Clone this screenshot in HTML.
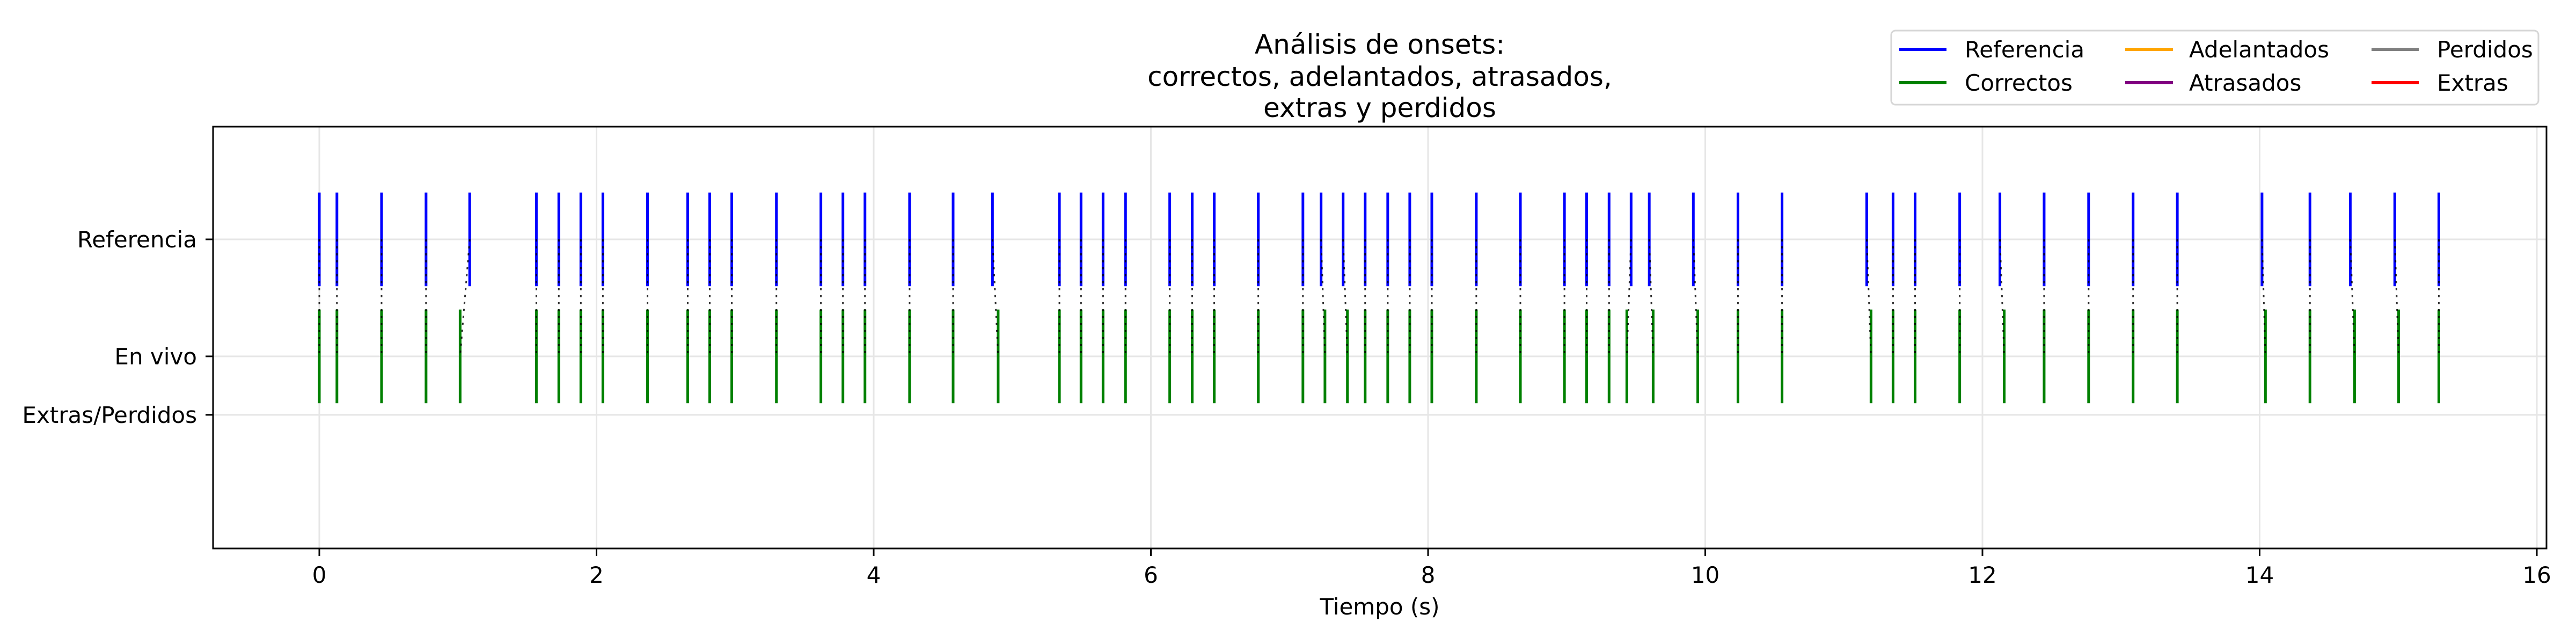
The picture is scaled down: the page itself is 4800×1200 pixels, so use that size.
<!DOCTYPE html>
<html><head><meta charset="utf-8"><style>
html,body{margin:0;padding:0;background:#fff}
svg{display:block;font-family:"DejaVu Sans","Liberation Sans",sans-serif}
</style></head><body>
<svg id="chart" width="4800" height="1200" viewBox="0 0 4800 1200" xmlns="http://www.w3.org/2000/svg">
<rect width="4800" height="1200" fill="#fff"/>
<g id="grid"></g>
<g id="marks"></g>
<g id="axes"></g>
<text x="2571" y="100" font-size="50" text-anchor="middle"><tspan x="2571" y="100">Análisis de onsets:</tspan><tspan x="2571" y="160">correctos, adelantados, atrasados,</tspan><tspan x="2571" y="218">extras y perdidos</tspan></text>
<text x="2571" y="1145" font-size="42" text-anchor="middle">Tiempo (s)</text>
<g>
<rect x="3524" y="57" width="1206" height="138" rx="8" fill="#fff" stroke="#d6d6d6" stroke-width="3"/>
<g><line x1="3539" y1="92" x2="3627" y2="92" stroke="blue" stroke-width="6"/><text x="3661" y="107" font-size="42">Referencia</text></g>
<g><line x1="3539" y1="154" x2="3627" y2="154" stroke="green" stroke-width="6"/><text x="3661" y="169" font-size="42">Correctos</text></g>
<g><line x1="3960" y1="92" x2="4049" y2="92" stroke="orange" stroke-width="6"/><text x="4079" y="107" font-size="42">Adelantados</text></g>
<g><line x1="3960" y1="154" x2="4049" y2="154" stroke="purple" stroke-width="6"/><text x="4079" y="169" font-size="42">Atrasados</text></g>
<g><line x1="4419" y1="92" x2="4507" y2="92" stroke="gray" stroke-width="6"/><text x="4541" y="107" font-size="42">Perdidos</text></g>
<g><line x1="4419" y1="154" x2="4507" y2="154" stroke="red" stroke-width="6"/><text x="4541" y="169" font-size="42">Extras</text></g>
</g>
</svg>
<script>
const refOnsets = [0.00,0.127,0.449,0.770,1.085,1.566,1.728,1.887,2.046,2.368,2.658,2.817,2.976,3.298,3.619,3.778,3.937,4.259,4.573,4.857,
5.340,5.496,5.655,5.817,6.136,6.298,6.457,6.775,7.097,7.228,7.387,7.546,7.709,7.868,8.027,8.348,8.666,8.984,9.144,9.306,9.465,9.596,9.914,10.236,10.554,
11.165,11.355,11.514,11.836,12.126,12.445,12.766,13.087,13.406,14.017,14.363,14.654,14.975,15.293];
const liveOnsets = [0.00,0.127,0.449,0.770,1.016,1.566,1.728,1.887,2.046,2.368,2.658,2.817,2.976,3.298,3.619,3.778,3.937,4.259,4.573,4.898,
5.340,5.496,5.655,5.817,6.136,6.298,6.457,6.775,7.097,7.256,7.418,7.546,7.709,7.868,8.027,8.348,8.666,8.984,9.144,9.306,9.434,9.624,9.946,10.236,10.554,
11.196,11.355,11.514,11.836,12.157,12.445,12.766,13.087,13.406,14.042,14.363,14.685,15.003,15.293];
const xTicks = [0,2,4,6,8,10,12,14,16];
const yTickValues = [2,1,0.5];
const yTickLabels = ["Referencia","En vivo","Extras/Perdidos"];

const L=397,R=4745,T=236,B=1022;
const X0=595, XU=258.25;
const Y2=446, YU=218;
function xs(t){return X0+t*XU;}
function ys(v){return Y2-(v-2)*YU;}
const NS="http://www.w3.org/2000/svg";
function mk(tag,attrs,parent){const e=document.createElementNS(NS,tag);for(const k in attrs)e.setAttribute(k,attrs[k]);parent.appendChild(e);return e;}
const grid=document.getElementById('grid'),marks=document.getElementById('marks'),axes=document.getElementById('axes');

xTicks.forEach(t=>{
  const g=mk('line',{x1:xs(t),x2:xs(t),y1:T,y2:B,stroke:'#e6e6e6','stroke-width':3},grid);
  
  
  const tk=mk('line',{x1:xs(t),x2:xs(t),y1:B,y2:B+14,stroke:'#000','stroke-width':3},axes);
  
  
  const tx=mk('text',{x:xs(t),y:B+64,'font-size':42,'text-anchor':'middle'},axes);
  tx.textContent=t;
  
  
});
yTickValues.forEach((v,i)=>{
  const g=mk('line',{x1:L,x2:R,y1:ys(v),y2:ys(v),stroke:'#e6e6e6','stroke-width':3},grid);
  
  
  const tk=mk('line',{x1:L-14,x2:L,y1:ys(v),y2:ys(v),stroke:'#000','stroke-width':3},axes);
  
  
  const tx=mk('text',{x:L-30,y:ys(v)+15,'font-size':42,'text-anchor':'end'},axes);
  tx.textContent=yTickLabels[i];
  
  
});
refOnsets.forEach(t=>{
  const l=mk('line',{x1:xs(t),x2:xs(t),y1:ys(2.4),y2:ys(1.6),stroke:'blue','stroke-width':5},marks);
  
  
});
liveOnsets.forEach(t=>{
  const l=mk('line',{x1:xs(t),x2:xs(t),y1:ys(1.4),y2:ys(0.6),stroke:'green','stroke-width':5},marks);
  
  
});
refOnsets.forEach((t,i)=>{
  const l=mk('line',{x1:xs(t),x2:xs(liveOnsets[i]),y1:ys(2),y2:ys(1),stroke:'#000','stroke-opacity':0.8,'stroke-width':3,'stroke-dasharray':'4 9'},marks);
  
  
});
const frame=mk('rect',{x:L,y:T,width:R-L,height:B-T,fill:'none',stroke:'#000','stroke-width':3},axes);


</script>
</body></html>
